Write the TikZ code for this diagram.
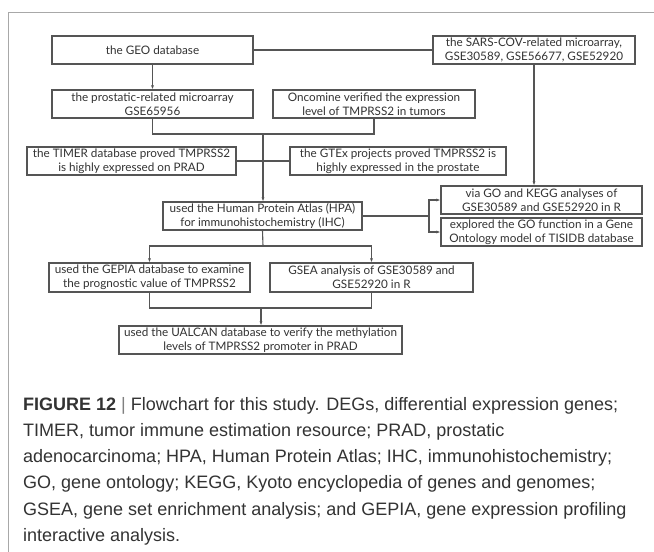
\documentclass[tikz,border=0pt]{standalone}
\usepackage{fontspec}
\setmainfont{Liberation Sans}
\newfontfamily\boxfont{Lato}
\usetikzlibrary{arrows.meta,positioning}
\definecolor{framegray}{HTML}{A8A8A8}
\definecolor{linegray}{HTML}{555555}
\definecolor{capgray}{HTML}{333333}

\begin{document}
\begin{tikzpicture}[
    x=1pt, y=-1pt,
    >={Latex[length=4pt,width=3pt]},
    box/.style={draw=linegray, line width=1.1pt, minimum height=28pt, inner sep=1pt, align=center, text=black!80, font=\boxfont\fontsize{11.7}{14.2}\selectfont},
    link/.style={draw=linegray, line width=1.1pt},
    flow/.style={->, draw=linegray, line width=1.1pt},
    caption/.style={align=left, inner sep=0pt, text=capgray, font=\fontsize{18}{26.2}\selectfont}
]
\useasboundingbox (0,0) rectangle (654,552);
\fill[white] (0,0) rectangle (654,552);

% Frame
\draw[framegray, line width=1pt] (654,12) -- (8,12) -- (8,552);

% Top row: sources
\node[box, minimum width=201pt] (geo) at (152.5,50) {the GEO database};
\node[box, minimum width=202pt] (sars) at (534,50) {the SARS-COV-related microarray,\\GSE30589, GSE56677, GSE52920};

% Prostate branch
\node[box, minimum width=201pt] (prost) at (152.5,104) {the prostatic-related microarray\\GSE65956};
\node[box, minimum width=202pt] (onco) at (374,104) {Oncomine verified the expression\\level of TMPRSS2 in tumors};
\node[box, minimum width=209pt] (timer) at (131.5,161) {the TIMER database proved TMPRSS2\\is highly expressed on PRAD};
\node[box, minimum width=216pt] (gtex) at (398,161) {the GTEx projects proved TMPRSS2 is\\highly expressed in the prostate};
\node[box, minimum width=199pt] (hpa) at (262.5,216) {used the Human Protein Atlas (HPA)\\for immunohistochemistry (IHC)};

% SARS branch
\node[box, minimum width=201pt] (gokegg) at (541.5,200) {via GO and KEGG analyses of\\GSE30589 and GSE52920 in R};
\node[box, minimum width=201pt] (tisidb) at (541.5,232) {explored the GO function in a Gene\\Ontology model of TISIDB database};

% Lower row
\node[box, minimum width=201pt, minimum height=29pt] (gepia) at (149.5,277.5) {used the GEPIA database to examine\\the prognostic value of TMPRSS2};
\node[box, minimum width=203pt, minimum height=29pt] (gsea) at (371.5,277.5) {GSEA analysis of GSE30589 and\\GSE52920 in R};
\node[box, minimum width=283pt] (ualcan) at (260.5,340) {used the UALCAN database to verify the methylation\\levels of TMPRSS2 promoter in PRAD};

% Connectors
\coordinate (join) at (263,134);
\coordinate (fork) at (429,216);
\coordinate (split) at (263,246);
\coordinate (merge) at (261,308);
\draw[link] (geo) -- (sars);
\draw[flow] (geo) -- (prost);
\draw[link] (prost.south) |- (join) -| (onco.south);
\draw[link] (timer) -- (gtex);
\draw[flow] (join) -- (join |- hpa.north);
\draw[flow] (sars.south) -- (sars.south |- gokegg.north);
\draw[link] (hpa.east) -- (fork);
\draw[flow] (fork) |- (gokegg.west);
\draw[flow] (fork) |- (tisidb.west);
\draw[link] (hpa.south) -- (split);
\draw[flow] (split) -| (gepia.north);
\draw[flow] (split) -| (gsea.north);
\draw[link] (gepia.south) |- (merge) -| (gsea.south);
\draw[flow] (merge) -- (merge |- ualcan.north);

% Caption
\node[caption, anchor=north west] (cap) at (23,397) {\textbf{FIGURE 12} {\color{gray}|} Flowchart for this study. DEGs, differential expression genes;\\
TIMER, tumor immune estimation resource; PRAD, prostatic\\
adenocarcinoma; HPA, Human Protein Atlas; IHC, immunohistochemistry;\\
GO, gene ontology; KEGG, Kyoto encyclopedia of genes and genomes;\\
GSEA, gene set enrichment analysis; and GEPIA, gene expression profiling\\
interactive analysis.};
\end{tikzpicture}
\end{document}
